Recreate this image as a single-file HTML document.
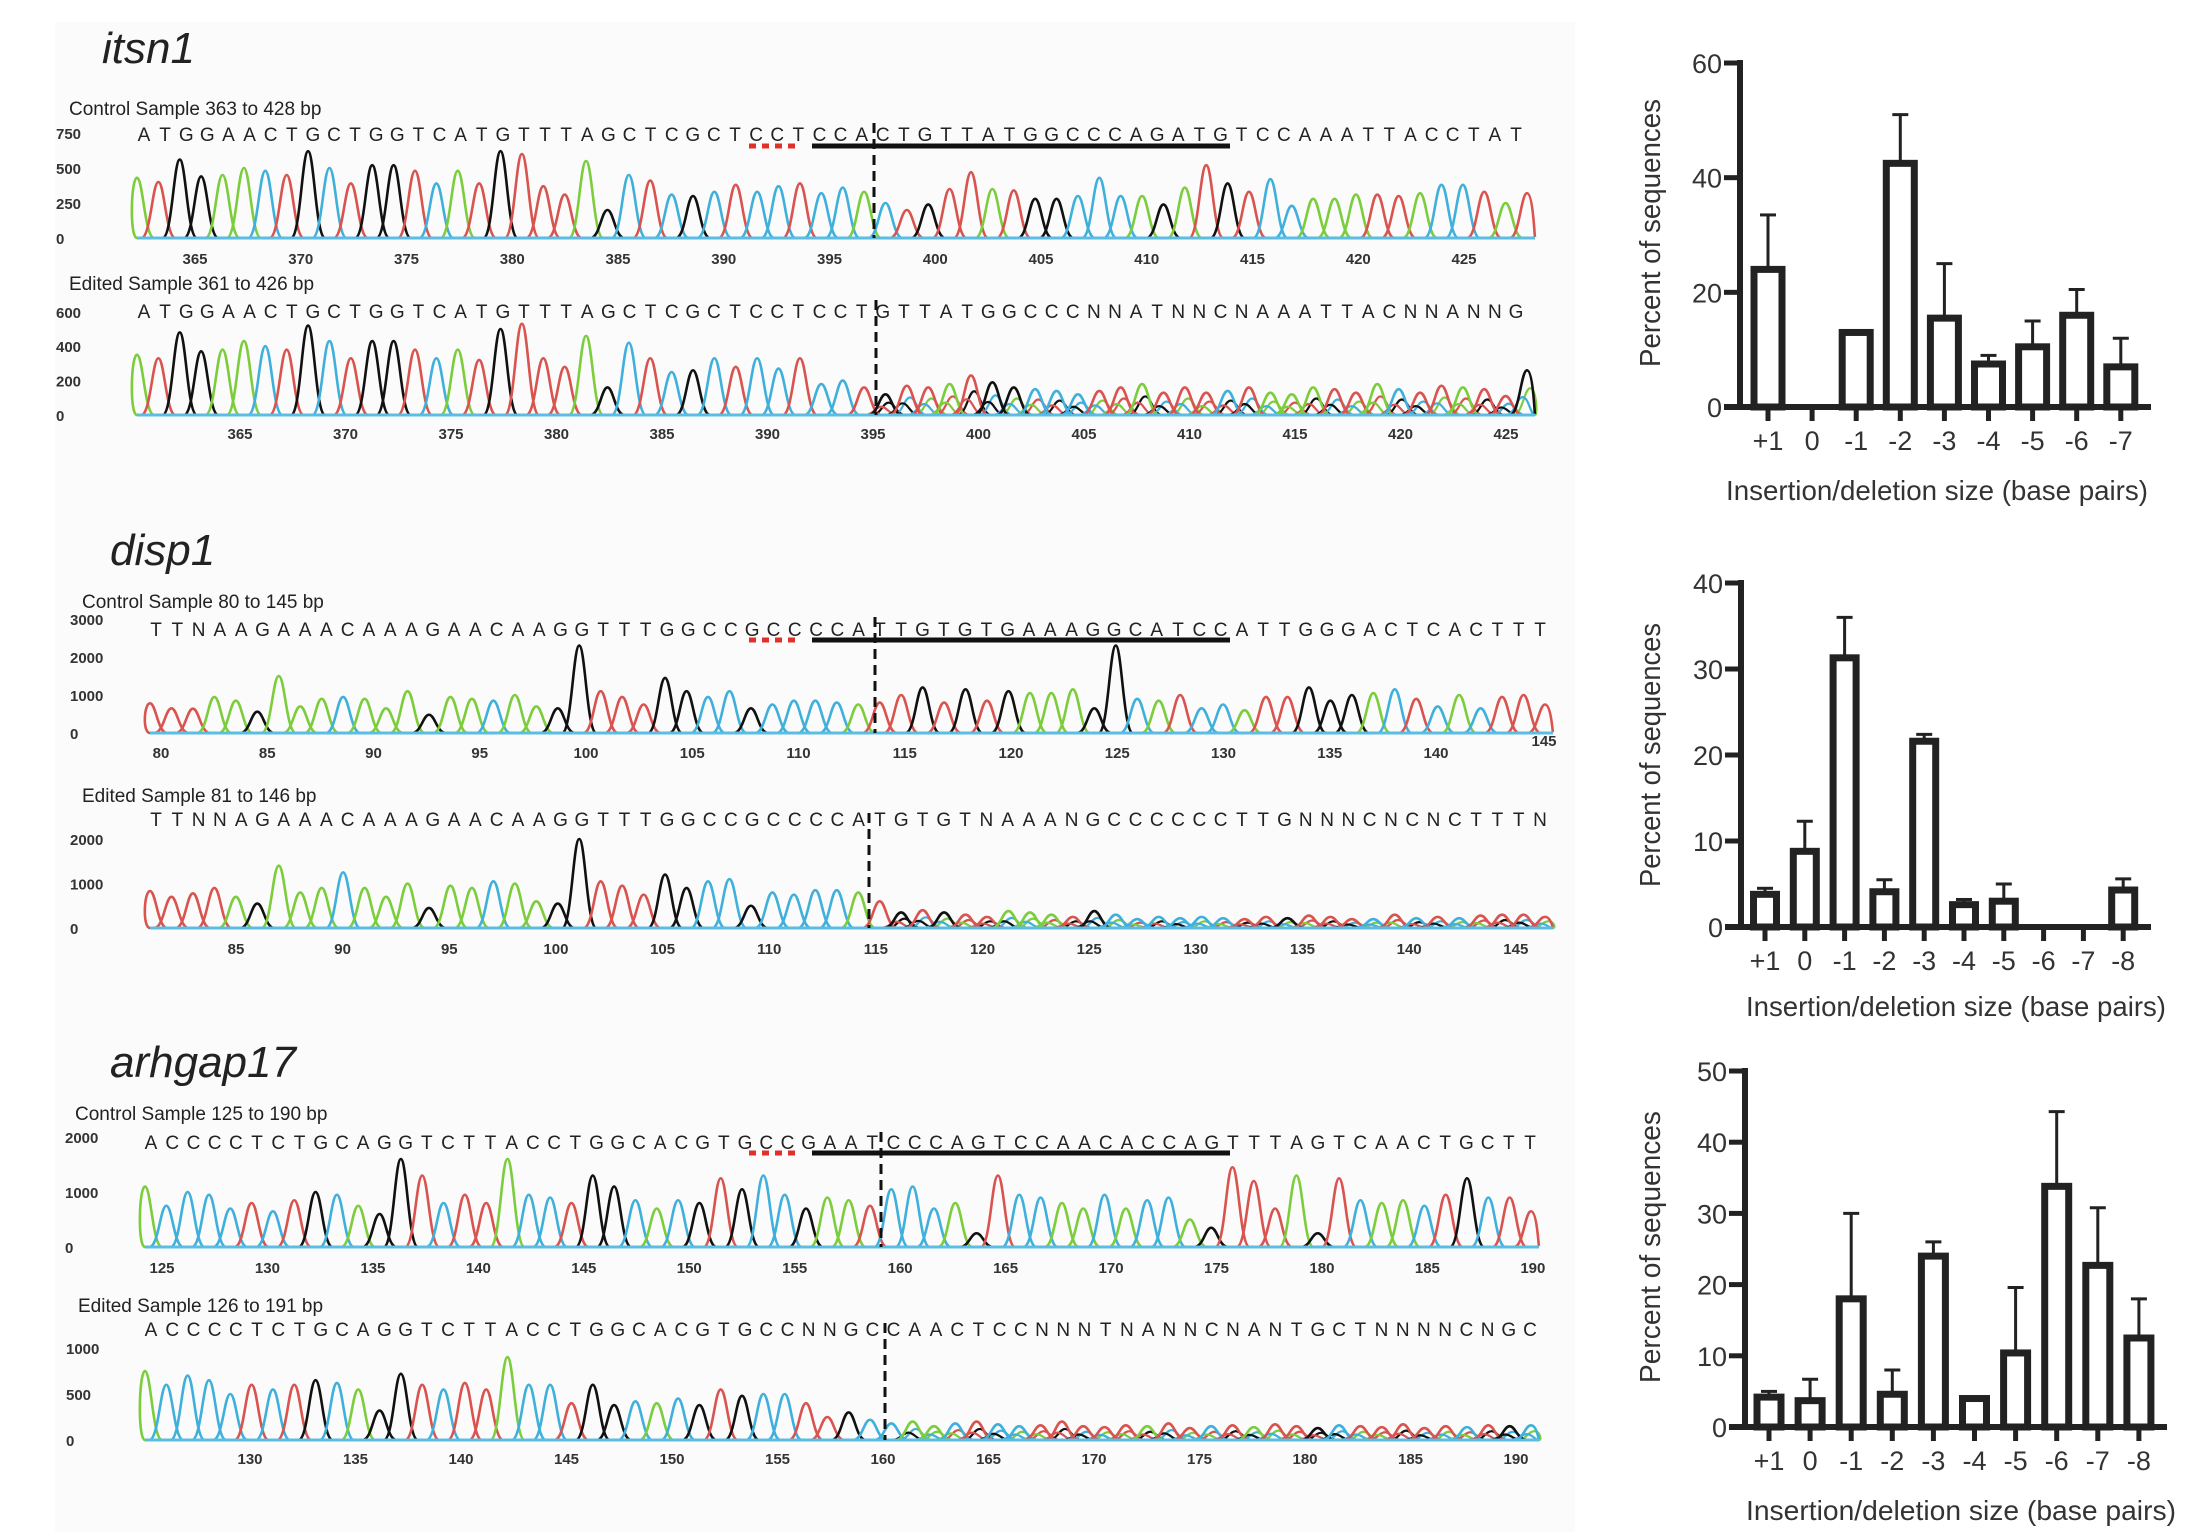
<!DOCTYPE html>
<html><head><meta charset="utf-8">
<style>
html,body{margin:0;padding:0;background:#fff;}
svg{display:block;}
text{font-family:"Liberation Sans",sans-serif;}
.nar{font-family:"Liberation Sans Narrow","Liberation Sans",sans-serif;}
</style></head>
<body>
<svg id="fig" xmlns="http://www.w3.org/2000/svg" width="2200" height="1532" viewBox="0 0 2200 1532">
<rect x="0" y="0" width="2200" height="1532" fill="#ffffff"/>
<rect x="55" y="22" width="1520" height="1510" fill="#fbfbfb"/>
<text x="102" y="63" font-size="44" font-style="italic" fill="#222">itsn1</text>
<text x="110" y="565" font-size="44" font-style="italic" fill="#222">disp1</text>
<text x="110" y="1077" font-size="44" font-style="italic" fill="#222">arhgap17</text>
<g id="chroms"></g>
<g id="bars"></g>
</svg>
<script>
// ---------- Bar chart data ----------
const cats1 = ["+1","0","-1","-2","-3","-4","-5","-6","-7"];
const vals1 = [24, 0, 13, 42.5, 15.5, 7.5, 10.5, 16, 7];
const errs1 = [33.5, 0, 13, 51, 25, 9, 15, 20.5, 12];
const yticks1 = [0, 20, 40, 60];

const cats2 = ["+1","0","-1","-2","-3","-4","-5","-6","-7","-8"];
const vals2 = [3.8, 8.8, 31.3, 4.1, 21.6, 2.6, 3, 0, 0, 4.3];
const errs2 = [4.5, 12.3, 36, 5.5, 22.4, 3.2, 5, 0, 0, 5.6];
const yticks2 = [0, 10, 20, 30, 40];

const cats3 = ["+1","0","-1","-2","-3","-4","-5","-6","-7","-8"];
const vals3 = [4.2, 3.7, 18, 4.6, 24, 4, 10.4, 33.8, 22.7, 12.5];
const errs3 = [5, 6.7, 30, 8, 26, 4, 19.6, 44.3, 30.8, 18];
const yticks3 = [0, 10, 20, 30, 40, 50];

// ---------- Chromatogram data ----------
const seqItsnC = "ATGGAACTGCTGGTCATGTTTAGCTCGCTCCTCCACTGTTATGGCCCAGATGTCCAAATTACCTAT";
const hItsnC = [430,400,560,440,450,500,480,450,620,500, 390,520,520,480,390,480,390,620,600,370, 310,550,200,450,410,310,300,330,380,330, 370,390,320,360,330,250,200,240,350,470, 350,340,280,280,300,430,300,300,240,360, 520,390,330,420,230,280,280,310,310,300, 320,380,380,330,250,320];
const seqItsnE = "ATGGAACTGCTGGTCATGTTTAGCTCGCTCCTCCTGTTATGGCCCNNATNNCNAAATTACNNANNG";
const hItsnE = [350,330,480,370,380,430,400,380,520,430, 330,430,430,380,330,380,320,500,530,330, 280,460,160,420,330,250,260,330,280,330, 270,330,180,200,160,120,170,160,180,230, 190,160,150,140,120,140,160,180,130,160, 130,140,160,130,120,160,150,130,180,150, 130,170,160,150,110,260];
const seqDispC = "TTNAAGAAACAAAGAACAAGGTTTGGCCGCCCCATTGTGTGAAAGGCATCCATTGGGACTCACTTT";
const hDispC = [780,650,640,950,850,560, 1500,700,900,950, 900,650,1100,480,950,900,850,1000,700,650, 2300,1100,950,750,1450,1100,950,1100,650,750, 850,850,800,750,800,1000,1200,800,1150,850, 1100,1050,1050,1150,650,2300,900,850,1000,650, 750,600,950,950,1200,850,1000,1050,1150,900, 700,1000,650,950,1000,750];
const seqDispE = "TTNNAGAAACAAAGAACAAGGTTTGGCCGCCCCATGTGTNAAANGCCCCCCTTGNNNCNCNCTTTN";
const hDispE = [830,700,780,900,700,550, 1400,800,900,1250, 900,700,1000,450,950,900,1050,1000,600,550, 2000,1050,950,750,1200,900,1050,1100,500,800, 750,850,850,800,600,350,400,350,300,250, 380,350,300,250,380,300,200,250,220,250, 220,200,250,220,280,250,200,200,300,220, 250,220,280,300,300,250];
const seqArhC = "ACCCCTCTGCAGGTCTTACCTGGCACGTGCCGAATCCCAGTCCAACACCAGTTTAGTCAACTGCTT";
const hArhC = [1100,750,1000,950,700,800,650,850,1000,950, 750,600,1600,1300,800,950,800,1600,950,900, 800,1300,1100,850,700,850,800,1250,1050,1300, 950,700,900,850,750,1050,1100,700,800,250, 1300,950,900,800,700,950,700,850,900,500, 350,1450,1200,700,1300,250,1250,850,800,850, 750,950,1250,900,900,650];
const seqArhE = "ACCCCTCTGCAGGTCTTACCTGGCACGTGCCNNGCCAACTCCNNNTNANNCNANTGCTNNNNCNGC";
const hArhE = [750,600,700,650,500,600,550,600,650,620, 550,320,720,600,550,620,550,900,600,600, 400,600,380,420,400,450,380,550,480,500, 500,400,250,300,220,180,200,150,180,200, 170,150,160,200,150,140,160,150,180,130, 150,160,140,170,150,130,160,150,140,170, 130,150,140,160,150,160];

const NS = "http://www.w3.org/2000/svg";
const COL = {A:"#7ccd3c", C:"#3fb0dc", G:"#111111", T:"#d9534f", N:"#d9534f"};
function mk(tag, attrs, parent){
  const e = document.createElementNS(NS, tag);
  for (const k in attrs) e.setAttribute(k, attrs[k]);
  parent.appendChild(e);
  return e;
}
const chromG = document.getElementById("chroms");

function panel(cfg){
  const g = mk("g", {}, chromG);
  
  
  const lab = mk("text", {x:cfg.labX, y:cfg.labY, "font-size":19, fill:"#222", class:"nar"}, g);
  
  
  lab.textContent = cfg.label;
  const yScale = v => cfg.base - v * cfg.pxPer;
  cfg.yt.forEach(v => {
    const t = mk("text", {x:cfg.ytX, y:yScale(v)+6, "font-size":15, "font-weight":"bold", fill:"#333"}, g);
    
    
    t.textContent = v;
  });
  for (let b = cfg.tStart; b <= cfg.tEnd; b += 5){
    const t = mk("text", {x:cfg.tx0 + (b - cfg.tStart) * cfg.tStep, y:cfg.tY + 6, "font-size":15, "font-weight":"bold", fill:"#333", "text-anchor":"middle"}, g);
    
    
    t.textContent = b;
  }
  const seq = cfg.seq;
  const sStep = (cfg.seqEnd - cfg.seqStart) / (seq.length - 1);
  for (let i = 0; i < seq.length; i++){
    const t = mk("text", {x:cfg.seqStart + i * sStep, y:cfg.seqY, "font-size":19, fill:"#222", "text-anchor":"middle", class:"nar"}, g);
    
    
    t.textContent = seq[i];
  }
  const n = cfg.h.length;
  const step = (cfg.pEnd - cfg.pStart) / (n - 1);
  const w = step * 0.8;
  const order = "ACGT";
  function peak(x, h, col, sw){
    const top = yScale(h), b = cfg.base;
    const x1 = Math.max(cfg.pStart, x - w), x2 = Math.min(cfg.pEnd + 8, x + w);
    const d = `M${x1},${b} C${x - w*0.45},${b} ${x - w*0.35},${top} ${x},${top} C${x + w*0.35},${top} ${x + w*0.45},${b} ${x2},${b}`;
    const p = mk("path", {d:d, fill:"none", stroke:col, "stroke-width":sw, "stroke-linejoin":"round"}, g);
    
    
  }
  if (cfg.cutIdx !== undefined){
    for (let i = cfg.cutIdx; i < n; i++){
      const c1 = order[(i * 3 + 1) % 4], c2 = order[(i * 3 + 2) % 4];
      peak(cfg.pStart + i * step + step*0.15, cfg.h[i] * 0.6, COL[c1], 2.2);
      peak(cfg.pStart + i * step - step*0.2, cfg.h[i] * 0.4, COL[c2], 2.2);
    }
  }
  for (let i = 0; i < n; i++){
    const ch = seq[i] || "N";
    peak(cfg.pStart + i * step, cfg.h[i], COL[ch], 2.6);
  }
  const bl = mk("line", {x1:cfg.pStart, y1:cfg.base, x2:cfg.pEnd + 8, y2:cfg.base, stroke:"#5bbce4", "stroke-width":3}, g);
  
  
  const dl = mk("line", {x1:cfg.cutX, y1:cfg.cutTop, x2:cfg.cutX, y2:cfg.base, stroke:"#111", "stroke-width":3, "stroke-dasharray":"10,6"}, g);
  
  
  if (cfg.ulY){
    const u = mk("line", {x1:812, y1:cfg.ulY, x2:1230, y2:cfg.ulY, stroke:"#111", "stroke-width":5}, g);
    
    
    const r = mk("line", {x1:749, y1:cfg.ulY, x2:801, y2:cfg.ulY, stroke:"#e0302a", "stroke-width":5, "stroke-dasharray":"7,6"}, g);
    
    
  }
  if (cfg.extra){
    const t = mk("text", {x:cfg.extra.x, y:cfg.extra.y, "font-size":15, "font-weight":"bold", fill:"#333", "text-anchor":"middle"}, g);
    
    
    t.textContent = cfg.extra.t;
  }
}

panel({name:"itsn1-control", label:"Control Sample 363 to 428 bp", labX:69, labY:115, base:238, pxPer:0.14, yt:[0,250,500,750], ytX:56,
  tStart:365, tEnd:425, tx0:195, tStep:21.15, tY:258, seq:seqItsnC, seqStart:144, seqEnd:1516, seqY:141,
  h:hItsnC, pStart:137, pEnd:1527, cutX:874, cutTop:123, ulY:146});
panel({name:"itsn1-edited", label:"Edited Sample 361 to 426 bp", labX:69, labY:290, base:415, pxPer:0.172, yt:[0,200,400,600], ytX:56,
  tStart:365, tEnd:425, tx0:240, tStep:21.1, tY:433, seq:seqItsnE, seqStart:144, seqEnd:1516, seqY:318,
  h:hItsnE, pStart:137, pEnd:1527, cutX:876, cutTop:300, cutIdx:35});
panel({name:"disp1-control", label:"Control Sample 80 to 145 bp", labX:82, labY:608, base:733, pxPer:0.038, yt:[0,1000,2000,3000], ytX:70,
  tStart:80, tEnd:140, tx0:161, tStep:21.25, tY:752, seq:seqDispC, seqStart:156, seqEnd:1540, seqY:636,
  h:hDispC, pStart:150, pEnd:1545, cutX:875, cutTop:617, ulY:640, extra:{x:1544,y:746,t:"145"}});
panel({name:"disp1-edited", label:"Edited Sample 81 to 146 bp", labX:82, labY:802, base:928, pxPer:0.0445, yt:[0,1000,2000], ytX:70,
  tStart:85, tEnd:145, tx0:236, tStep:21.33, tY:948, seq:seqDispE, seqStart:156, seqEnd:1540, seqY:826,
  h:hDispE, pStart:150, pEnd:1545, cutX:869, cutTop:813, cutIdx:35});
panel({name:"arhgap17-control", label:"Control Sample 125 to 190 bp", labX:75, labY:1120, base:1247, pxPer:0.055, yt:[0,1000,2000], ytX:65,
  tStart:125, tEnd:190, tx0:162, tStep:21.09, tY:1267, seq:seqArhC, seqStart:151, seqEnd:1530, seqY:1149,
  h:hArhC, pStart:145, pEnd:1531, cutX:881, cutTop:1132, ulY:1153});
panel({name:"arhgap17-edited", label:"Edited Sample 126 to 191 bp", labX:78, labY:1312, base:1440, pxPer:0.092, yt:[0,500,1000], ytX:66,
  tStart:130, tEnd:190, tx0:250, tStep:21.1, tY:1458, seq:seqArhE, seqStart:151, seqEnd:1530, seqY:1336,
  h:hArhE, pStart:145, pEnd:1531, cutX:885, cutTop:1323, cutIdx:36});

// ---------- Bar charts ----------
const barsG = document.getElementById("bars");
function barChart(o){
  const g = mk("g", {}, barsG);
  
  
  const ys = v => o.y0 - (v / o.max) * (o.y0 - o.yTop);
  const xs = i => o.x1 + i * o.dx;
  o.vals.forEach((v, i) => {
    const e = o.errs[i];
    if (e > v){
      const l = mk("line", {x1:xs(i), y1:ys(v), x2:xs(i), y2:ys(e), stroke:"#222", "stroke-width":3}, g);
      
      
      const c = mk("line", {x1:xs(i)-8, y1:ys(e), x2:xs(i)+8, y2:ys(e), stroke:"#222", "stroke-width":3}, g);
      
      
    }
    if (v > 0){
      const hw = o.bw / 2 - 3.5;
      const r = mk("rect", {x:xs(i)-hw, y:ys(v), width:hw*2, height:o.y0 - ys(v), fill:"#fff", stroke:"#222", "stroke-width":7}, g);
      
      
    }
  });
  const ya = mk("line", {x1:o.ax, y1:o.yTop - 3, x2:o.ax, y2:o.y0 + 3, stroke:"#222", "stroke-width":6}, g);
  
  
  const xa = mk("line", {x1:o.ax - 16, y1:o.y0, x2:o.xEnd, y2:o.y0, stroke:"#222", "stroke-width":6}, g);
  
  
  o.ticks.forEach(v => {
    const t = mk("line", {x1:o.ax - 16, y1:ys(v), x2:o.ax, y2:ys(v), stroke:"#222", "stroke-width":5}, g);
    
    
    const l = mk("text", {x:o.ax - 18, y:ys(v) + 10, "font-size":27, fill:"#333", "text-anchor":"end"}, g);
    
    
    l.textContent = v;
  });
  o.cats.forEach((c, i) => {
    const t = mk("line", {x1:xs(i), y1:o.y0, x2:xs(i), y2:o.y0 + 14, stroke:"#222", "stroke-width":5}, g);
    
    
    const l = mk("text", {x:xs(i), y:o.y0 + 43, "font-size":27, fill:"#333", "text-anchor":"middle"}, g);
    
    
    l.textContent = c;
  });
  const xl = mk("text", {x:o.xlX, y:o.xlY, "font-size":28, fill:"#333", textLength:o.xlW, lengthAdjust:"spacingAndGlyphs"}, g);
  
  
  xl.textContent = "Insertion/deletion size (base pairs)";
  const yl = mk("text", {x:0, y:0, "font-size":29, fill:"#333", "text-anchor":"middle", textLength:o.ylW, lengthAdjust:"spacingAndGlyphs", transform:`translate(${o.ylX},${o.ylY}) rotate(-90)`}, g);
  
  
  yl.textContent = "Percent of sequences";
}
barChart({name:"itsn1-indel-chart", cats:cats1, vals:vals1, errs:errs1, ticks:yticks1, max:60, ax:1740, y0:407, yTop:63,
  x1:1768, dx:44.1, bw:35, xEnd:2151, xlX:1726, xlY:500, xlW:422, ylX:1660, ylY:233, ylW:268});
barChart({name:"disp1-indel-chart", cats:cats2, vals:vals2, errs:errs2, ticks:yticks2, max:40, ax:1741, y0:927, yTop:583,
  x1:1765, dx:39.8, bw:30, xEnd:2151, xlX:1746, xlY:1016, xlW:420, ylX:1660, ylY:755, ylW:264});
barChart({name:"arhgap17-indel-chart", cats:cats3, vals:vals3, errs:errs3, ticks:yticks3, max:50, ax:1745, y0:1427, yTop:1071,
  x1:1769, dx:41.1, bw:31, xEnd:2167, xlX:1746, xlY:1520, xlW:430, ylX:1660, ylY:1247, ylW:272});
</script>
</body></html>
